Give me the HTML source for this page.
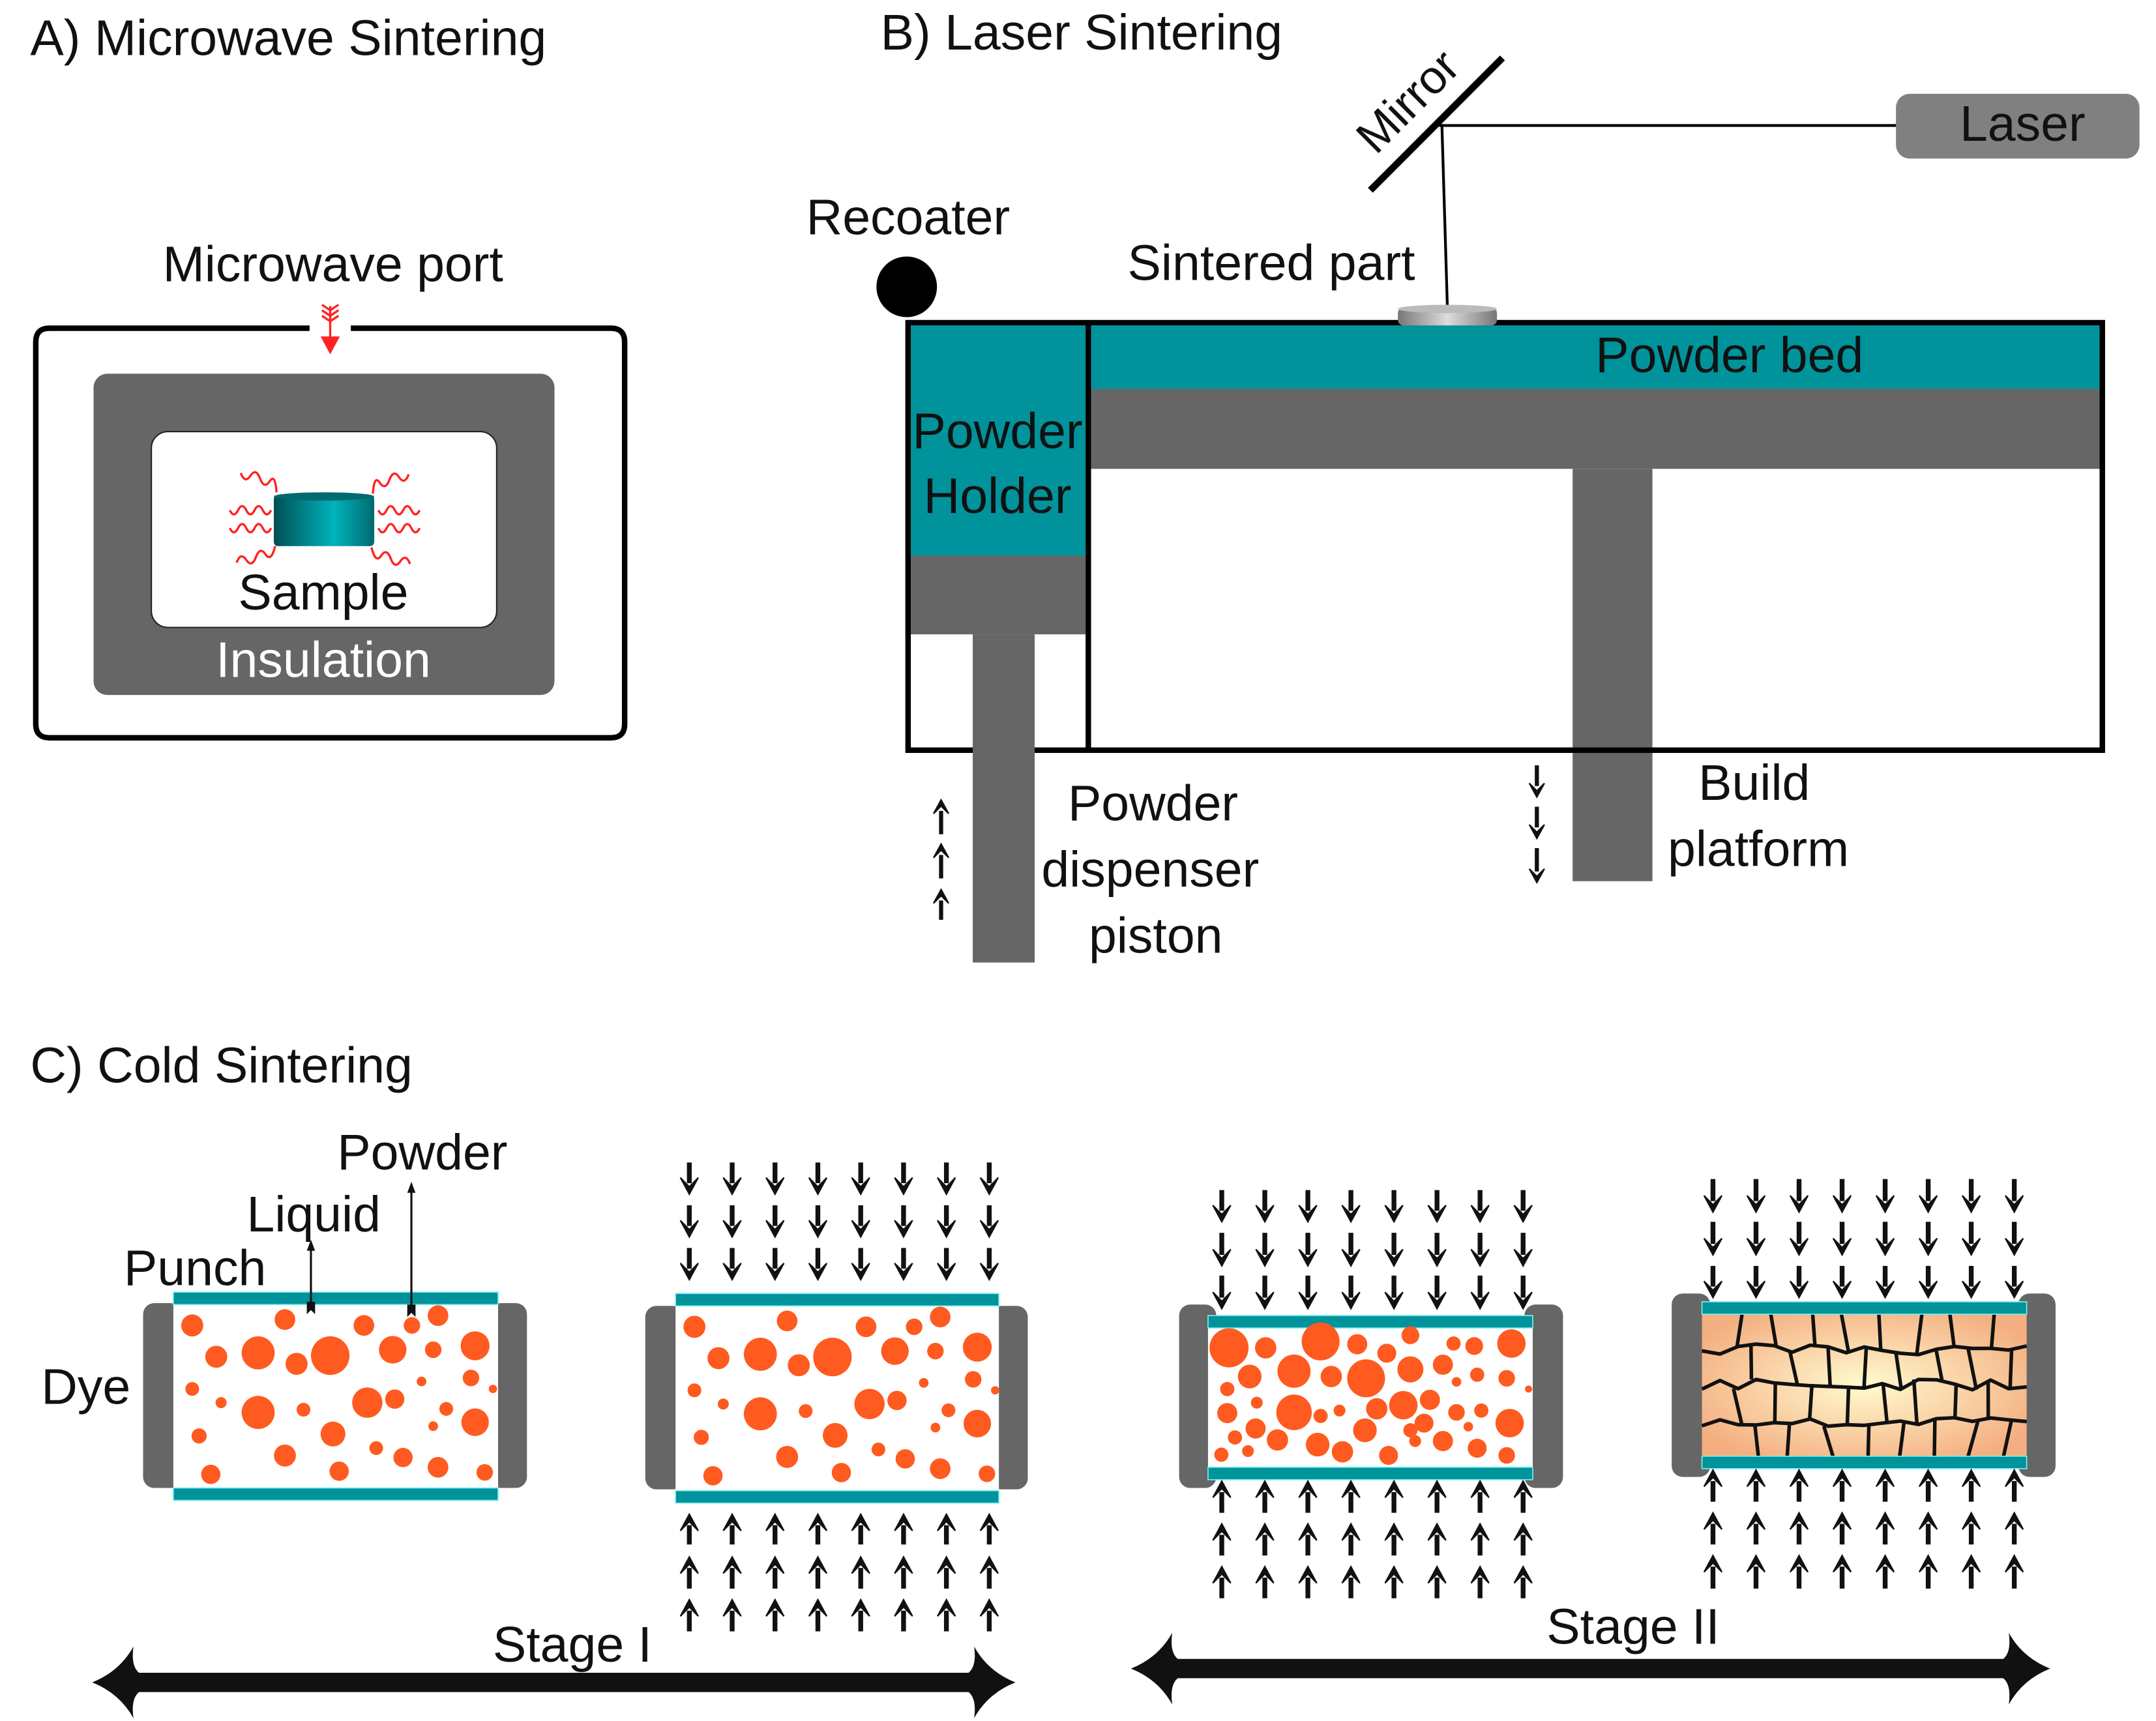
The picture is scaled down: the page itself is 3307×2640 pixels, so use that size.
<!DOCTYPE html>
<html><head><meta charset="utf-8"><style>
html,body{margin:0;padding:0;background:#fff;}
svg{display:block;}
text{font-family:"Liberation Sans",sans-serif;fill:#111;}
</style></head><body>
<svg id="s" width="3307" height="2640" viewBox="0 0 1567 1248" preserveAspectRatio="none" xmlns="http://www.w3.org/2000/svg">
<defs>
<linearGradient id="cyl" x1="0" x2="1" y1="0" y2="0">
<stop offset="0" stop-color="#004f55"/><stop offset="0.6" stop-color="#00b3bb"/><stop offset="1" stop-color="#006a70"/>
</linearGradient>
<linearGradient id="disc" x1="0" x2="1"><stop offset="0" stop-color="#777"/><stop offset="0.5" stop-color="#ddd"/><stop offset="1" stop-color="#777"/></linearGradient>
<radialGradient id="grain" cx="0.5" cy="0.5" r="0.6"><stop offset="0" stop-color="#fffbd0"/><stop offset="1" stop-color="#f4ae80"/></radialGradient>
</defs>

<!-- A -->
<text x="22" y="40" font-size="36.5">A) Microwave Sintering</text>
<text x="242" y="204" font-size="36.5" text-anchor="middle">Microwave port</text>
<path d="M225,238 H36 Q26,238 26,248 V525 Q26,535 36,535 H444 Q454,535 454,525 V248 Q454,238 444,238 H255" fill="none" stroke="#000" stroke-width="4"/>
<rect x="68" y="271" width="335" height="233" rx="10" fill="#666"/>
<rect x="110" y="313" width="251" height="142" rx="12" fill="#fff" stroke="#222" stroke-width="1"/>
<g stroke="#f22" stroke-width="1.6" fill="none">
<line x1="240" y1="222" x2="240" y2="246"/>
<path d="M234,221 l6,4 l6,-4 M234,225 l6,4 l6,-4 M234,229 l6,4 l6,-4"/>
</g>
<path d="M233,244 h14 l-7,13z" fill="#f22"/>
<g stroke="#f22" stroke-width="1.6" fill="none">
<path d="M175,343 q3,8 7,2 t7,2 t7,2 t5,8"/>
<path d="M167,370 q3,6 6,0 t6,0 t6,0 t6,0 t6,0"/>
<path d="M167,383 q3,6 6,0 t6,0 t6,0 t6,0 t6,0"/>
<path d="M172,408 q3,-8 7,-2 t7,-2 t7,-2 t7,-6"/>
<path d="M297,344 q-3,8 -7,2 t-7,2 t-7,2 t-5,8"/>
<path d="M305,370 q-3,6 -6,0 t-6,0 t-6,0 t-6,0 t-6,0"/>
<path d="M305,383 q-3,6 -6,0 t-6,0 t-6,0 t-6,0 t-6,0"/>
<path d="M298,409 q-3,-8 -7,-2 t-7,-2 t-7,-2 t-7,-6"/>
</g>
<rect x="199" y="359" width="73" height="37" rx="3" fill="url(#cyl)"/>
<ellipse cx="235.5" cy="360" rx="36.5" ry="3" fill="#006a70"/>
<text x="235" y="442" font-size="36.5" text-anchor="middle">Sample</text>
<text x="235" y="491" font-size="36.5" text-anchor="middle" style="fill:#fff">Insulation</text>

<!-- B -->
<text x="640" y="36" font-size="36.5">B) Laser Sintering</text>
<line x1="996" y1="138" x2="1092" y2="42" stroke="#000" stroke-width="5"/>
<text x="0" y="0" font-size="34" transform="translate(1000,113) rotate(-45)">Mirror</text>
<line x1="1046" y1="91" x2="1380" y2="91" stroke="#000" stroke-width="2"/>
<line x1="1048" y1="91" x2="1052" y2="224" stroke="#000" stroke-width="2"/>
<rect x="1378" y="68" width="177" height="47" rx="10" fill="#808080"/>
<text x="1470" y="102" font-size="36.5" text-anchor="middle">Laser</text>
<text x="660" y="170" font-size="36.5" text-anchor="middle">Recoater</text>
<circle cx="659" cy="208" r="22" fill="#000"/>
<text x="924" y="203" font-size="36.5" text-anchor="middle">Sintered part</text>
<rect x="662" y="236" width="127" height="167" fill="#00939b"/>
<rect x="662" y="403" width="127" height="57" fill="#666"/>
<rect x="793" y="236" width="733" height="46" fill="#00939b"/>
<rect x="793" y="282" width="733" height="58" fill="#666"/>
<rect x="1143" y="340" width="58" height="299" fill="#666"/>
<rect x="660" y="234" width="868" height="310" fill="none" stroke="#000" stroke-width="4"/>
<line x1="791" y1="234" x2="791" y2="544" stroke="#000" stroke-width="4"/>
<rect x="707" y="460" width="45" height="238" fill="#666"/>
<rect x="1016" y="223" width="72" height="13" rx="4" fill="url(#disc)"/>
<ellipse cx="1052" cy="224" rx="36" ry="3" fill="#bbb"/>
<text x="725" y="325" font-size="36.5" text-anchor="middle">Powder</text>
<text x="725" y="372" font-size="36.5" text-anchor="middle">Holder</text>
<text x="1257" y="270" font-size="36.5" text-anchor="middle">Powder bed</text>
<text x="838" y="595" font-size="36.5" text-anchor="middle">Powder</text>
<text x="836" y="643" font-size="36.5" text-anchor="middle">dispenser</text>
<text x="840" y="691" font-size="36.5" text-anchor="middle">piston</text>
<text x="1275" y="580" font-size="36.5" text-anchor="middle">Build</text>
<text x="1278" y="628" font-size="36.5" text-anchor="middle">platform</text>
<g id="barrows"></g>

<!-- C -->
<text x="22" y="785" font-size="36.5">C) Cold Sintering</text>
<text x="90" y="932" font-size="36.5">Punch</text>
<text x="228" y="893" font-size="36.5" text-anchor="middle">Liquid</text>
<text x="307" y="848" font-size="36.5" text-anchor="middle">Powder</text>
<text x="30" y="1018" font-size="36.5">Dye</text>
<text x="416" y="1205" font-size="36.5" text-anchor="middle">Stage I</text>
<text x="1187" y="1192" font-size="36.5" text-anchor="middle">Stage II</text>
<g id="c"></g>
</svg>
<script>
var NS="http://www.w3.org/2000/svg";
function el(p,t,a){var e=document.createElementNS(NS,t);for(var k in a)e.setAttribute(k,a[k]);p.appendChild(e);return e;}
var B=document.getElementById('barrows'),C=document.getElementById('c');
function arrow(g,x,y1,y2,down,w,hw,hl){
  w=w||3.5;hw=hw||6.5;hl=hl||12;
  el(g,'line',{x1:x,x2:x,y1:down?y1:y1+8,y2:down?y2-8:y2,stroke:'#111','stroke-width':w});
  if(down)el(g,'path',{d:'M'+(x-hw)+','+(y2-hl)+' L'+x+','+y2+' L'+(x+hw)+','+(y2-hl)+' L'+x+','+(y2-hl*0.45)+'z',fill:'#111',stroke:'#111','stroke-width':1});
  else el(g,'path',{d:'M'+(x-hw)+','+(y1+hl)+' L'+x+','+y1+' L'+(x+hw)+','+(y1+hl)+' L'+x+','+(y1+hl*0.45)+'z',fill:'#111',stroke:'#111','stroke-width':1});
}
[[580,605],[612,637],[645,667]].forEach(function(r){arrow(B,684,r[0],r[1],false,3,5.5,10);});
[[555,578],[585,608],[615,640]].forEach(function(r){arrow(B,1117,r[0],r[1],true,3,5.5,10);});
function die(sx0,sx1,px0,px1,sy0,sy1,pt,pb){
  el(C,'rect',{x:sx0,y:sy0,width:px0-sx0+6,height:sy1-sy0,rx:8,fill:'#666'});
  el(C,'rect',{x:px1-6,y:sy0,width:sx1-px1+6,height:sy1-sy0,rx:8,fill:'#666'});
  el(C,'rect',{x:px0,y:pt,width:px1-px0,height:pb-pt+9,fill:'#fff'});
  el(C,'rect',{x:px0,y:pt,width:px1-px0,height:9,fill:'#00939b',stroke:'#7ee',"stroke-width":0.8});
  el(C,'rect',{x:px0,y:pb,width:px1-px0,height:9,fill:'#00939b',stroke:'#7ee',"stroke-width":0.8});
}
function cols(a,b){var r=[];for(var i=0;i<8;i++)r.push(a+(b-a)*i/7);return r;}
die(104,383,126,362,945,1079,937,1079);
die(469,747,491,726,947,1080,938,1081);
var p1=[[280,560,16],[415,545,15],[530,560,15],[600,560,12],[638,535,15],[315,640,16],[376,630,24],[432,658,16],[481,637,28],[572,622,20],[631,622,12],[692,612,21],[280,722,10],[322,757,8],[376,782,24],[442,775,10],[535,757,22],[575,748,14],[614,703,7],[686,694,12],[718,722,6],[650,773,10],[692,807,20],[631,817,7],[290,842,11],[415,892,16],[485,837,18],[548,873,10],[587,897,14],[638,922,15],[706,935,12],[307,940,14],[494,932,14]];
p1.forEach(function(c){
  var x=c[0]*0.499,y=802+c[1]*0.2842,r=c[2]*0.5;
  el(C,'circle',{cx:x,cy:y,r:r,fill:'#ff5a1f'});
  el(C,'circle',{cx:x+365,cy:y+1,r:r,fill:'#ff5a1f'});
});
el(C,'line',{x1:226,y1:945,x2:226,y2:903,stroke:'#111','stroke-width':1.5});
el(C,'path',{d:'M223,907 L226,899 L229,907z',fill:'#111'});
el(C,'line',{x1:299,y1:948,x2:299,y2:861,stroke:'#111','stroke-width':1.5});
el(C,'path',{d:'M296,865 L299,857 L302,865z',fill:'#111'});
el(C,'path',{d:'M223,944 h6 v9 l-3,-3 l-3,3z',fill:'#111'});
el(C,'path',{d:'M296,946 h6 v9 l-3,-3 l-3,3z',fill:'#111'});
cols(501,719).forEach(function(x){
  [[843,866],[874,897],[905,928]].forEach(function(r){arrow(C,x,r[0],r[1],true);});
  [[1098,1120],[1129,1152],[1160,1183]].forEach(function(r){arrow(C,x,r[0],r[1],false);});
});
die(857,1136,878,1114,946,1079,954,1064);
var p3=[[125,530,33],[187,530,18],[280,512,32],[342,520,17],[392,545,16],[432,495,15],[505,518,12],[540,525,15],[603,518,24],[160,610,20],[235,595,28],[298,610,18],[357,615,32],[432,590,22],[487,577,17],[545,605,12],[595,615,14],[510,625,8],[632,645,6],[122,645,12],[172,683,10],[122,712,17],[235,710,30],[280,720,12],[312,705,10],[375,700,18],[420,690,24],[465,675,17],[510,710,14],[552,705,12],[600,740,24],[170,755,17],[135,780,12],[207,787,18],[275,800,20],[355,760,20],[432,760,12],[455,740,16],[530,750,8],[487,790,17],[545,810,16],[112,828,12],[157,818,10],[317,820,18],[395,830,16],[595,830,14],[440,790,10]];
p3.forEach(function(c){el(C,'circle',{cx:839.6+c[0]*0.4294,cy:839.6+c[1]*0.26,r:c[2]*0.43,fill:'#ff5a1f'});});
cols(888,1107).forEach(function(x){
  [[863,886],[894,918],[925,949]].forEach(function(r){arrow(C,x,r[0],r[1],true);});
  [[1074,1097],[1105,1128],[1136,1159]].forEach(function(r){arrow(C,x,r[0],r[1],false);});
});
el(C,'rect',{x:1215,y:938,width:28,height:133,rx:8,fill:'#666'});
el(C,'rect',{x:1467,y:938,width:27,height:133,rx:8,fill:'#666'});
var gx0=1237,gx1=1473,gy0=952,gy1=1057,nx=9,ny=4;
el(C,'rect',{x:gx0,y:gy0,width:gx1-gx0,height:gy1-gy0,fill:'url(#grain)'});
var seed=11;function rnd(){seed=(seed*9301+49297)%233280;return seed/233280-0.5;}
var gg=el(C,'g',{stroke:'#111','stroke-width':2.6,fill:'none','stroke-linejoin':'round'});
var rowY=[];for(var j=0;j<=ny;j++){rowY[j]=[];for(var i=0;i<=nx*2;i++){var y=gy0+(gy1-gy0)*j/ny;if(j>0&&j<ny)y+=rnd()*9;rowY[j].push(y);}}
for(var j=1;j<ny;j++){var d='';for(var i=0;i<=nx*2;i++){var x=gx0+(gx1-gx0)*i/(nx*2);d+=(i?' L':'M')+x+','+rowY[j][i];}el(gg,'path',{d:d});}
for(var j=0;j<ny;j++){for(var i=1;i<nx;i++){
  var k=2*i+((j%2)?1:0); if(k>=nx*2)continue;
  var x=gx0+(gx1-gx0)*k/(nx*2);
  var xa=x+rnd()*8,xb=x+rnd()*8;
  el(gg,'path',{d:'M'+xa+','+rowY[j][k]+' L'+xb+','+rowY[j+1][k]});}}
el(C,'rect',{x:1237,y:944,width:236,height:9,fill:'#00939b',stroke:'#7ee','stroke-width':0.8});
el(C,'rect',{x:1237,y:1056,width:236,height:9,fill:'#00939b',stroke:'#7ee','stroke-width':0.8});
cols(1245,1464).forEach(function(x){
  [[855,879],[886,910],[918,941]].forEach(function(r){arrow(C,x,r[0],r[1],true);});
  [[1066,1089],[1097,1120],[1128,1152]].forEach(function(r){arrow(C,x,r[0],r[1],false);});
});
function bigArrow(x0,x1,y){
  var h=7;
  var d='M'+x0+','+y+' Q'+(x0+20)+','+(y-8)+' '+(x0+30)+','+(y-26)+' Q'+(x0+28)+','+(y-12)+' '+(x0+34)+','+(y-h)+
   ' L'+(x1-34)+','+(y-h)+' Q'+(x1-28)+','+(y-12)+' '+(x1-30)+','+(y-26)+' Q'+(x1-20)+','+(y-8)+' '+x1+','+y+
   ' Q'+(x1-20)+','+(y+8)+' '+(x1-30)+','+(y+26)+' Q'+(x1-28)+','+(y+12)+' '+(x1-34)+','+(y+h)+
   ' L'+(x0+34)+','+(y+h)+' Q'+(x0+28)+','+(y+12)+' '+(x0+30)+','+(y+26)+' Q'+(x0+20)+','+(y+8)+' '+x0+','+y+'z';
  el(C,'path',{d:d,fill:'#111'});
}
bigArrow(67,738,1220);
bigArrow(822,1490,1210);
</script>
</body></html>
